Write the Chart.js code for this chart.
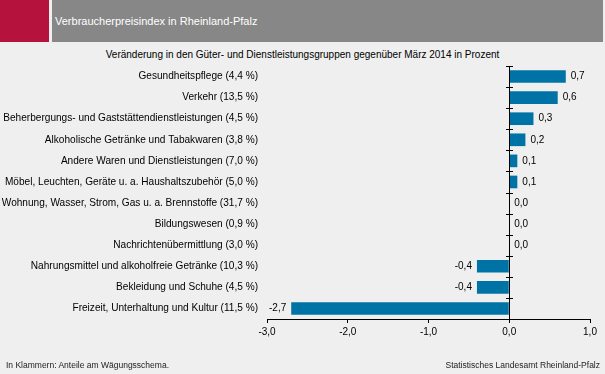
<!DOCTYPE html>
<html><head><meta charset="utf-8">
<script src="https://cdn.jsdelivr.net/npm/chart.js@4"></script>
<style>
html,body{margin:0;padding:0;background:#eeefee;width:605px;height:374px;overflow:hidden;font-family:"Liberation Sans",Arial,sans-serif;}
#red{position:absolute;left:0;top:0;width:49px;height:42px;background:#b5123e;}
#hdr{position:absolute;left:52px;top:0;width:551px;height:42px;background:#878787;}
#title{position:absolute;left:55px;top:15px;font-size:11px;color:#fff;white-space:nowrap;}
#sub{position:absolute;left:0;width:605px;top:49px;text-align:center;font-size:10px;color:#000;white-space:nowrap;}
#fl{position:absolute;left:6px;top:360px;font-size:8.5px;color:#222;white-space:nowrap;}
#fr{position:absolute;right:5px;top:360px;font-size:8.5px;color:#222;white-space:nowrap;}
#wrap{position:absolute;left:0;top:0;width:605px;height:374px;}
</style></head>
<body>
<div id="red"></div><div id="hdr"></div>
<div id="title">Verbraucherpreisindex in Rheinland-Pfalz</div>
<div id="sub">Veränderung in den Güter- und Dienstleistungsgruppen gegenüber März 2014 in Prozent</div>
<div id="wrap"><canvas id="c" width="605" height="374"></canvas></div>
<div id="fl">In Klammern: Anteile am Wägungsschema.</div>
<div id="fr">Statistisches Landesamt Rheinland-Pfalz</div>
<script>
const categories = [
  "Gesundheitspflege (4,4 %)",
  "Verkehr (13,5 %)",
  "Beherbergungs- und Gaststättendienstleistungen (4,5 %)",
  "Alkoholische Getränke und Tabakwaren (3,8 %)",
  "Andere Waren und Dienstleistungen (7,0 %)",
  "Möbel, Leuchten, Geräte u. a. Haushaltszubehör (5,0 %)",
  "Wohnung, Wasser, Strom, Gas u. a. Brennstoffe (31,7 %)",
  "Bildungswesen (0,9 %)",
  "Nachrichtenübermittlung (3,0 %)",
  "Nahrungsmittel und alkoholfreie Getränke (10,3 %)",
  "Bekleidung und Schuhe (4,5 %)",
  "Freizeit, Unterhaltung und Kultur (11,5 %)"
];
const changes = [0.7, 0.6, 0.3, 0.2, 0.1, 0.1, 0.0, 0.0, 0.0, -0.4, -0.4, -2.7];
const xTickMin = -3, xTickMax = 1, xTickStep = 1;

const fmt = v => v.toFixed(1).replace('.', ',');
const FONT = '"Liberation Sans", Arial, sans-serif';

const axisPlugin = {
  id: 'axisPlugin',
  afterDatasetsDraw(chart) {
    const ctx = chart.ctx, x = chart.scales.x, y = chart.scales.y;
    const ca = chart.chartArea;
    const x0 = Math.round(x.getPixelForValue(0)) + 0.5;
    ctx.save();
    ctx.strokeStyle = '#000'; ctx.lineWidth = 1;
    ctx.beginPath(); ctx.moveTo(x0, ca.top); ctx.lineTo(x0, ca.bottom); ctx.stroke();
    const n = categories.length;
    for (let i = 0; i <= n; i++) {
      let py;
      if (i === 0) py = ca.top; else if (i === n) py = ca.bottom;
      else py = (y.getPixelForValue(i - 1) + y.getPixelForValue(i)) / 2;
      py = Math.round(py) + 0.5;
      ctx.beginPath(); ctx.moveTo(x0 - 3.5, py); ctx.lineTo(x0 + 3.5, py); ctx.stroke();
    }
    ctx.fillStyle = '#000';
    ctx.font = '10px ' + FONT;
    ctx.textBaseline = 'middle';
    changes.forEach((v, i) => {
      const py = y.getPixelForValue(i);
      const px = x.getPixelForValue(v);
      if (v < 0) { ctx.textAlign = 'right'; ctx.fillText(fmt(v), px - 5, py); }
      else { ctx.textAlign = 'left'; ctx.fillText(fmt(v), px + 5, py); }
    });
    ctx.restore();
  }
};

new Chart(document.getElementById('c'), {
  type: 'bar',
  data: {
    labels: categories,
    datasets: [{ data: changes, backgroundColor: '#0073a6', borderWidth: 0,
      barPercentage: 0.6, categoryPercentage: 1.0 }]
  },
  options: {
    indexAxis: 'y',
    responsive: false,
    animation: false,
    layout: { padding: { top: 66, right: 15, left: 0, bottom: 0 } },
    plugins: { legend: { display: false }, tooltip: { enabled: false } },
    scales: {
      x: {
        min: xTickMin, max: xTickMax,
        ticks: { stepSize: xTickStep, color: '#000', font: { size: 10, family: FONT },
          padding: 3, callback: v => fmt(v), maxRotation: 0 },
        grid: { drawOnChartArea: false, drawTicks: true, tickLength: 4, color: '#000' },
        border: { display: true, color: '#000' },
        afterFit: s => { s.height = 55; }
      },
      y: {
        ticks: { color: '#000', font: { size: 10.1, family: FONT }, padding: 9 },
        grid: { display: false, drawTicks: false },
        border: { display: false },
        afterFit: s => { s.width = 267; }
      }
    }
  },
  plugins: [axisPlugin]
});
</script>
</body></html>
